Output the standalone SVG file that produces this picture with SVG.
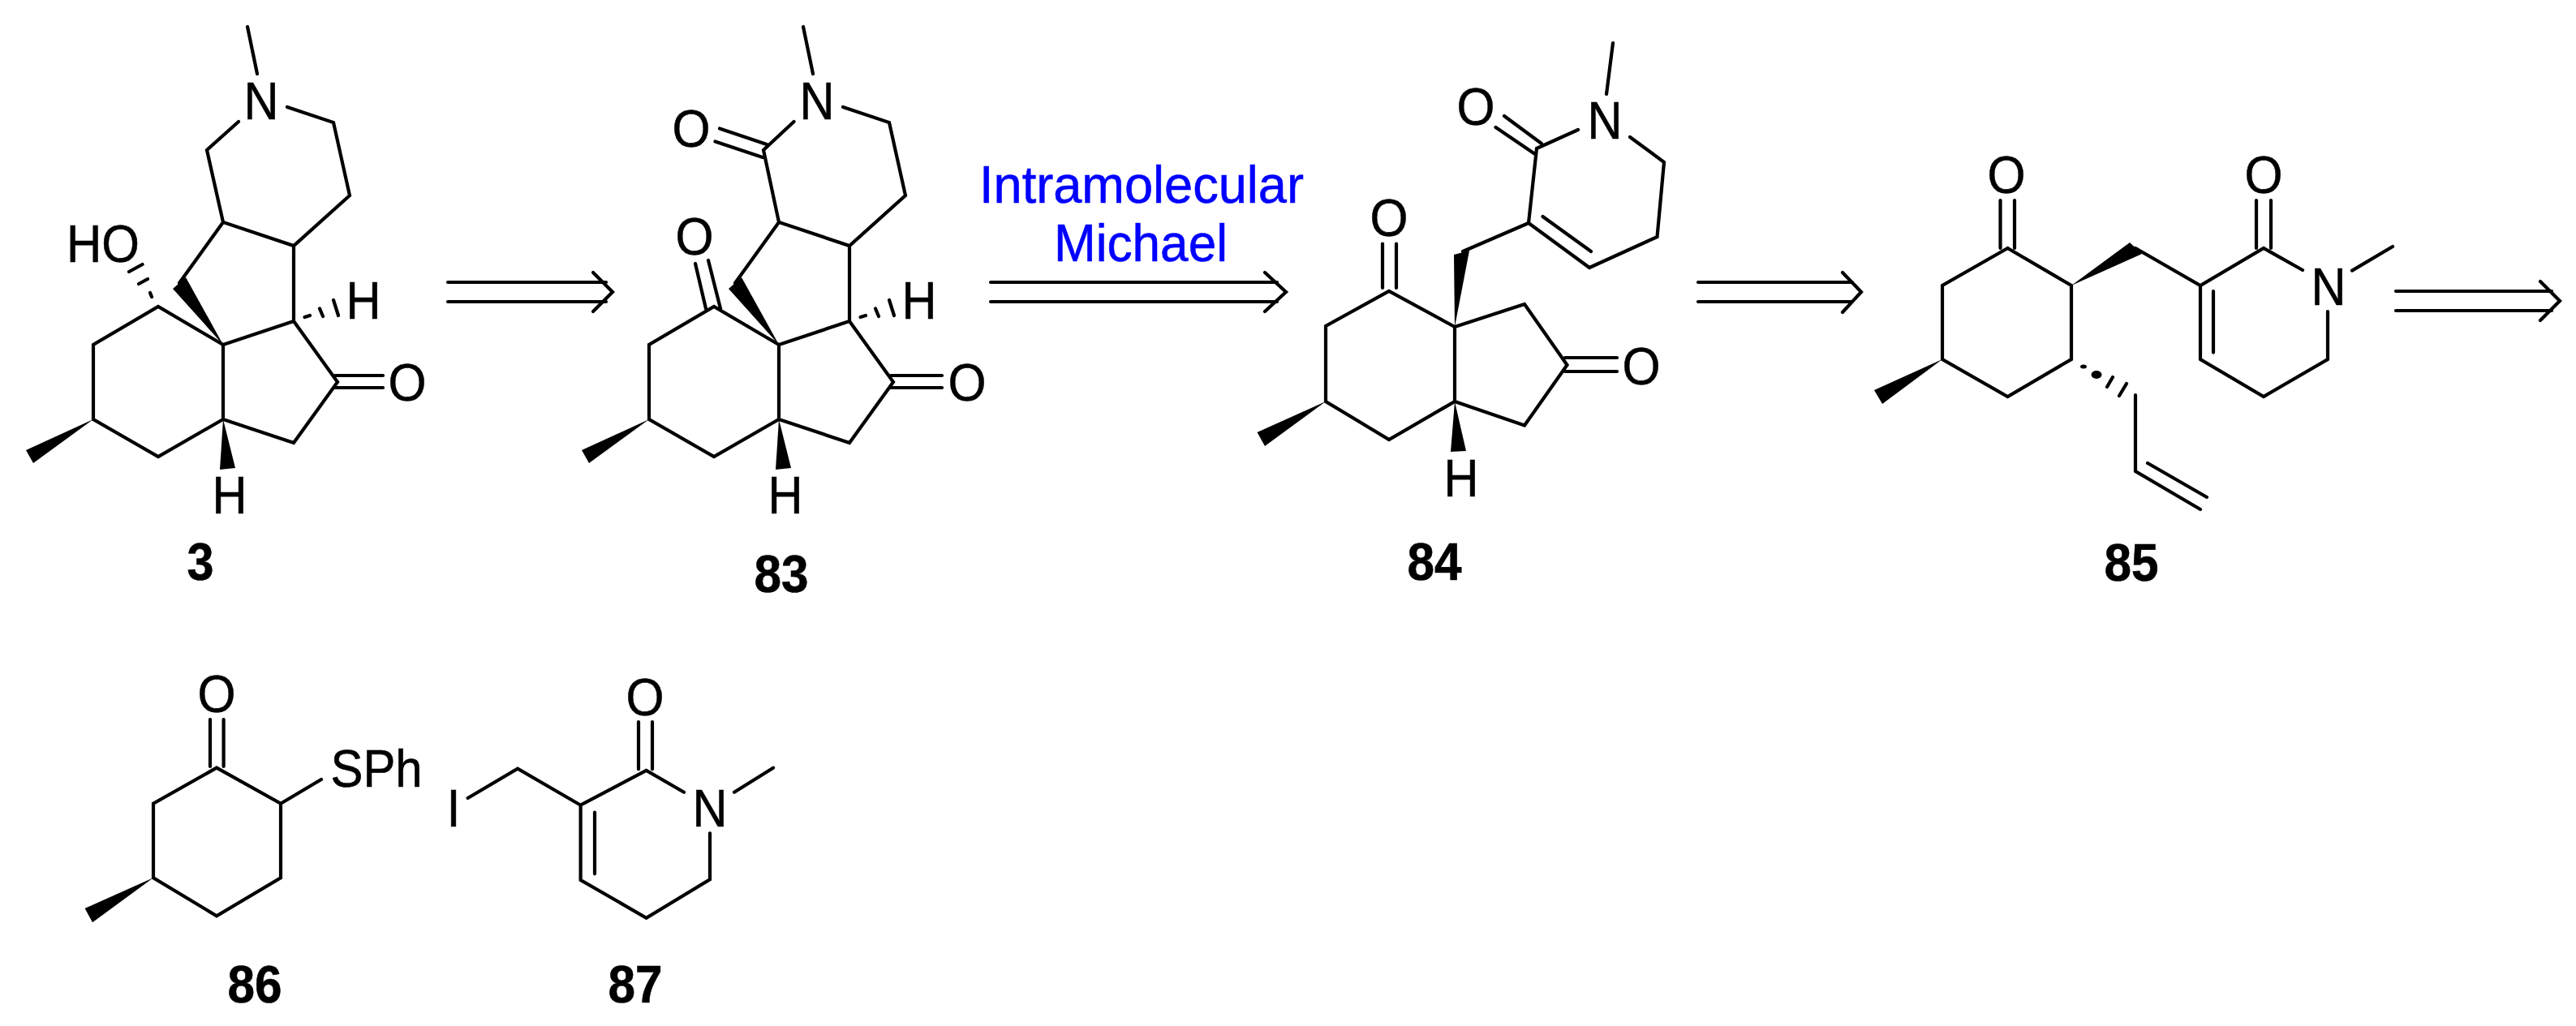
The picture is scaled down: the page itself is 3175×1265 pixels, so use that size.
<svg xmlns="http://www.w3.org/2000/svg" width="3175" height="1265" viewBox="0 0 3175 1265">
<style>
.b{fill:none;stroke:#000;stroke-width:4.200;stroke-linejoin:miter;stroke-linecap:round}
.w{fill:#000;stroke:none}
text{font-family:"Liberation Sans",Arial,sans-serif;text-anchor:middle;fill:#000;stroke:#000;stroke-width:.6}
.a{font-size:65px}
.l{font-size:65px;font-weight:bold}
.r{font-size:65px;fill:#0000ff;stroke:#0000ff}
.c{fill:none;stroke:#000;stroke-width:4.200;stroke-linecap:round;stroke-linejoin:miter}
</style>
<rect width="3175" height="1265" fill="#fff"/>
<g id="connectors">
<path class="c" d="M552 348H747M552 372H747M731 336L755 360L731 384"/>
<path class="c" d="M1221 348H1574M1221 372H1574M1559 336L1585 360L1559 384"/>
<path class="c" d="M2093 348H2283M2093 372H2283M2271 336L2294 360L2271 385"/>
<path class="c" d="M2953 359H3145M2953 383H3145M3131 347L3155 371L3131 395"/>
</g>
<g id="mol-3">
<path class="b" d="M305 33L317 91M354 132L411 151L431 241L362 303L275 274L255 185L294 150M275 274L221 349M362 303V396L275 425V517M275 425L195 378L115 425V517L195 563L275 517L362 546L416 471L362 396M413 463H472M413 478H472"/>
<path class="w" d="M275 425L213 356L229 342Z"/>
<path class="w" d="M115 517L32 555L41 571Z"/>
<path class="w" d="M275 517L271 579L290 577Z"/>
<path class="b" d="M159 335L175.500 326M171 350L182 344M185 361L187 366M375.500 391L382 389M394 380.500L398 390M411 370L417 389"/>
<text class="a" x="322" y="147" textLength="43" lengthAdjust="spacingAndGlyphs">N</text>
<text class="a" x="127" y="323" textLength="90" lengthAdjust="spacingAndGlyphs">HO</text>
<text class="a" x="448" y="393" textLength="43" lengthAdjust="spacingAndGlyphs">H</text>
<text class="a" x="502" y="494" textLength="47" lengthAdjust="spacingAndGlyphs">O</text>
<text class="a" x="283" y="633" textLength="43" lengthAdjust="spacingAndGlyphs">H</text>
<text class="l" x="247" y="715" textLength="33" lengthAdjust="spacingAndGlyphs">3</text>
</g>
<g id="mol-83">
<path class="b" d="M990 33L1002 91M1039 132L1096 151L1116 241L1047 303L960 274L941 185L978.500 150M960 274L906 349M1047 303V396L960 425V517M960 425L880 378L800 425V517L880 563L960 517L1047 546L1101 471L1047 396M1098 463H1161M1098 478H1161M857 325L870 380.500M873 321L888 380.500M887 158.500L945 178M881.500 174.500L940 194"/>
<path class="w" d="M960 425L898 356L914 342Z"/>
<path class="w" d="M800 517L717 555L726 571Z"/>
<path class="w" d="M960 517L956 579L975 577Z"/>
<path class="b" d="M1060.500 391L1067 389M1079 380.500L1083 390M1096 370L1102 389"/>
<text class="a" x="1007" y="147" textLength="43" lengthAdjust="spacingAndGlyphs">N</text>
<text class="a" x="852" y="181" textLength="47" lengthAdjust="spacingAndGlyphs">O</text>
<text class="a" x="856" y="314" textLength="47" lengthAdjust="spacingAndGlyphs">O</text>
<text class="a" x="1133" y="393" textLength="43" lengthAdjust="spacingAndGlyphs">H</text>
<text class="a" x="1192" y="494" textLength="47" lengthAdjust="spacingAndGlyphs">O</text>
<text class="a" x="968" y="633" textLength="43" lengthAdjust="spacingAndGlyphs">H</text>
<text class="l" x="963" y="730" textLength="67" lengthAdjust="spacingAndGlyphs">83</text>
</g>
<g id="label-michael">
<text class="r" x="1407" y="250" textLength="400" lengthAdjust="spacingAndGlyphs">Intramolecular</text>
<text class="r" x="1406" y="322" textLength="214" lengthAdjust="spacingAndGlyphs">Michael</text>
</g>
<g id="mol-84">
<path class="b" d="M1988 53L1980 116M1945 160L1894 183L1884 275L1959 330L2042.500 292L2051 200L2009 169M1901.500 267L1961 310M1854 143L1900 177M1843.500 157L1892 190M1884 275L1803 310M1793 403L1712 359L1634 402V495L1712 542L1793 495V403L1879 375L1931.500 450L1879 524.500L1793 495M1929 441H1993M1929 458H1993M1704 300.500V355M1721 300.500V355"/>
<path class="w" d="M1793 403L1792 314L1811 309Z"/>
<path class="w" d="M1634 495L1549.500 533L1559 550Z"/>
<path class="w" d="M1793 495L1788 557L1807 556Z"/>
<text class="a" x="1978" y="171" textLength="43" lengthAdjust="spacingAndGlyphs">N</text>
<text class="a" x="1819" y="154" textLength="47" lengthAdjust="spacingAndGlyphs">O</text>
<text class="a" x="1712" y="291" textLength="47" lengthAdjust="spacingAndGlyphs">O</text>
<text class="a" x="2023" y="474" textLength="47" lengthAdjust="spacingAndGlyphs">O</text>
<text class="a" x="1801" y="612" textLength="43" lengthAdjust="spacingAndGlyphs">H</text>
<text class="l" x="1768" y="715" textLength="67" lengthAdjust="spacingAndGlyphs">84</text>
</g>
<g id="mol-85">
<path class="b" d="M2465.500 247V306M2483 247V306M2474.500 306L2394 352V443L2474.500 489L2553 443V352L2474.500 306M2632 306L2712 352L2790 306L2838 333M2869 384V443L2790 489L2712 443V352M2728 359V434.600M2781 247V306M2799 247V306M2899 333.600L2949 304M2632 487V581L2712 628M2647 571L2720 613M2597 477L2604 465M2612 488L2621 473"/>
<path class="w" d="M2394 443L2310 481L2320 498Z"/>
<path class="w" d="M2553 352L2625 299L2640 313Z"/>
<ellipse class="w" cx="2568" cy="452" rx="4" ry="2.500"/>
<ellipse class="w" cx="2584" cy="462" rx="6.500" ry="5"/>
<text class="a" x="2473" y="238" textLength="47" lengthAdjust="spacingAndGlyphs">O</text>
<text class="a" x="2790" y="238" textLength="47" lengthAdjust="spacingAndGlyphs">O</text>
<text class="a" x="2870" y="376" textLength="43" lengthAdjust="spacingAndGlyphs">N</text>
<text class="l" x="2627" y="716" textLength="67" lengthAdjust="spacingAndGlyphs">85</text>
</g>
<g id="mol-86">
<path class="b" d="M259 887V945M275.600 887V945M267 946.700L189 990.700V1082.300L267 1129.300L346 1082.300V990.700L267 946.700M346 990.700L396 961"/>
<path class="w" d="M189 1082.300L104.600 1120L114 1137.300Z"/>
<text class="a" x="267" y="878" textLength="47" lengthAdjust="spacingAndGlyphs">O</text>
<text class="a" x="464" y="970" textLength="113" lengthAdjust="spacingAndGlyphs">SPh</text>
<text class="l" x="314" y="1236" textLength="67" lengthAdjust="spacingAndGlyphs">86</text>
</g>
<g id="mol-87">
<path class="b" d="M576.600 984L638 947.700L715.600 992.700L796.600 950L843 976.700M905 976.700L953 946.700M875 1027.300V1084.300L796.600 1131.700L715.600 1085V992.700M733 1001.700V1077.300M787 890V948.300M804 890V948.300"/>
<text class="a" x="559" y="1018.500" textLength="17" lengthAdjust="spacingAndGlyphs">I</text>
<text class="a" x="875" y="1018.500" textLength="43" lengthAdjust="spacingAndGlyphs">N</text>
<text class="a" x="795" y="881.700" textLength="47" lengthAdjust="spacingAndGlyphs">O</text>
<text class="l" x="783" y="1236" textLength="67" lengthAdjust="spacingAndGlyphs">87</text>
</g>
</svg>
